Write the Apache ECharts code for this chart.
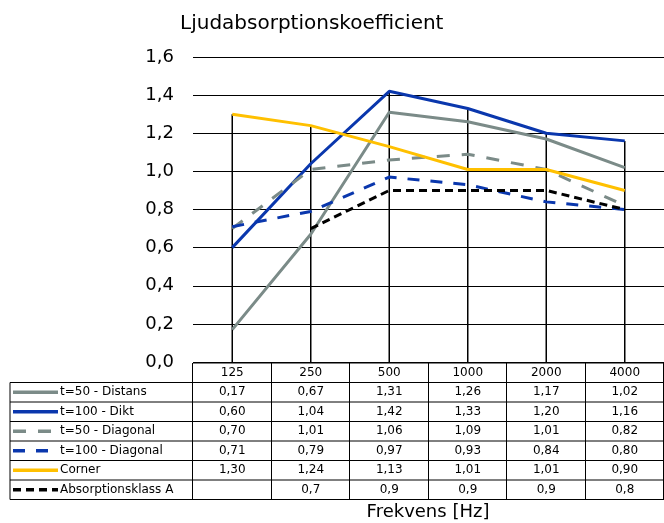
<!DOCTYPE html>
<html>
<head>
<meta charset="utf-8">
<script src="https://cdn.jsdelivr.net/npm/echarts@6/dist/echarts.min.js"></script>
<style>
  html, body { margin: 0; padding: 0; background: #fff; }
  #main { width: 664px; height: 523px; }
</style>
</head>
<body>
<div id="main"></div>
<script>
// frekvensband (Hz)
const categories = ['125', '250', '500', '1000', '2000', '4000'];

// mätvärden per serie
const distans50 = [0.17, 0.67, 1.31, 1.26, 1.17, 1.02];
const dikt100 = [0.60, 1.04, 1.42, 1.33, 1.20, 1.16];
const diagonal50 = [0.70, 1.01, 1.06, 1.09, 1.01, 0.82];
const diagonal100 = [0.71, 0.79, 0.97, 0.93, 0.84, 0.80];
const corner = [1.30, 1.24, 1.13, 1.01, 1.01, 0.90];
const klassA = [null, 0.7, 0.9, 0.9, 0.9, 0.8];

const seriesNames = ['t=50 - Distans', 't=100 - Dikt', 't=50 - Diagonal', 't=100 - Diagonal', 'Corner', 'Absorptionsklass A'];

const FONT = 'DejaVu Sans';
const GRAY = '#7b8b88';
const BLUE = '#0a37ad';
const YELLOW = '#ffc000';

// stil per serie
const styles = [
  { data: distans50, color: GRAY, dash: 'solid', dec: 2 },
  { data: dikt100, color: BLUE, dash: 'solid', dec: 2 },
  { data: diagonal50, color: GRAY, dash: [13, 12], dec: 2 },
  { data: diagonal100, color: BLUE, dash: [12, 11], dec: 2 },
  { data: corner, color: YELLOW, dash: 'solid', dec: 2 },
  { data: klassA, color: '#000', dash: [8, 5], dec: 1 }
];

// droplines från högsta punkten ner till axeln
const dropTops = categories.map((c, i) =>
  Math.max(...styles.map(s => s.data[i] == null ? 0 : s.data[i])));

const fmt = (v, dec) => v == null ? '' : v.toFixed(dec).replace('.', ',');

// tabellens geometri
const plotLeft = 193, plotRight = 664, tableLeft = 10;
const headTop = 363, rowH = 19.5;
const colW = (plotRight - plotLeft) / categories.length;

const graphic = [];
const line = (x1, y1, x2, y2) => graphic.push({
  type: 'line', silent: true,
  shape: { x1, y1, x2, y2 },
  style: { stroke: '#000', lineWidth: 1 }
});

// horisontella linjer
line(plotLeft, headTop, plotRight, headTop);
for (let r = 1; r <= seriesNames.length + 1; r++) {
  const y = headTop + r * rowH;
  line(tableLeft, y, plotRight, y);
}
// vertikala linjer
const bottom = headTop + (seriesNames.length + 1) * rowH;
line(tableLeft, headTop + rowH, tableLeft, bottom);
for (let c = 0; c <= categories.length; c++) {
  const x = Math.round(plotLeft + c * colW) - 0.5;
  line(x, headTop, x, bottom);
}
// rubrikrad
categories.forEach((c, i) => {
  graphic.push({
    type: 'text', silent: true,
    x: plotLeft + (i + 0.5) * colW, y: headTop + rowH / 2,
    style: { text: c, font: '12px ' + FONT, fill: '#000', align: 'center', verticalAlign: 'middle' }
  });
});
// datarader
styles.forEach((s, r) => {
  const cy = headTop + (r + 1.5) * rowH;
  graphic.push({
    type: 'line', silent: true,
    shape: { x1: 13, y1: cy, x2: 58, y2: cy },
    style: { stroke: s.color, lineWidth: 3.5, lineDash: s.dash === 'solid' ? null : s.dash }
  });
  graphic.push({
    type: 'text', silent: true,
    x: 60, y: cy,
    style: { text: seriesNames[r], font: '12px ' + FONT, fill: '#000', align: 'left', verticalAlign: 'middle' }
  });
  s.data.forEach((v, i) => {
    graphic.push({
      type: 'text', silent: true,
      x: plotLeft + (i + 0.5) * colW, y: cy,
      style: { text: fmt(v, s.dec), font: '12px ' + FONT, fill: '#000', align: 'center', verticalAlign: 'middle' }
    });
  });
});
// x-axelns titel
graphic.push({
  type: 'text', silent: true,
  x: 428, y: 512,
  style: { text: 'Frekvens [Hz]', font: '18px ' + FONT, fill: '#000', align: 'center', verticalAlign: 'middle' }
});

const chart = echarts.init(document.getElementById('main'), null, { renderer: 'canvas' });

chart.setOption({
  animation: false,
  backgroundColor: '#fff',
  title: {
    text: 'Ljudabsorptionskoefficient',
    left: 175, top: 9,
    textStyle: { fontFamily: FONT, fontSize: 20, fontWeight: 'normal', color: '#000' }
  },
  grid: { left: plotLeft, right: 0, top: 57, bottom: 523 - 362 },
  xAxis: {
    type: 'category',
    data: categories,
    boundaryGap: true,
    axisLine: { show: false },
    axisTick: { show: false },
    axisLabel: { show: false },
    splitLine: { show: false }
  },
  yAxis: {
    type: 'value',
    min: 0, max: 1.6, interval: 0.2,
    axisLine: { show: false },
    axisTick: { show: false },
    axisLabel: {
      margin: 19,
      fontFamily: FONT, fontSize: 18, color: '#000',
      formatter: v => v.toFixed(1).replace('.', ',')
    },
    splitLine: { lineStyle: { color: '#000', width: 1 } }
  },
  series: [
    {
      type: 'bar',
      name: 'drop',
      data: dropTops,
      barWidth: 1.5,
      silent: true,
      z: 1,
      itemStyle: { color: '#000' }
    }
  ].concat(styles.map((s, i) => ({
    type: 'line',
    name: seriesNames[i],
    data: s.data,
    showSymbol: false,
    symbol: 'none',
    connectNulls: false,
    z: 3 + i,
    lineStyle: { color: s.color, width: 3, type: s.dash }
  }))),
  graphic: graphic
});
</script>
</body>
</html>
